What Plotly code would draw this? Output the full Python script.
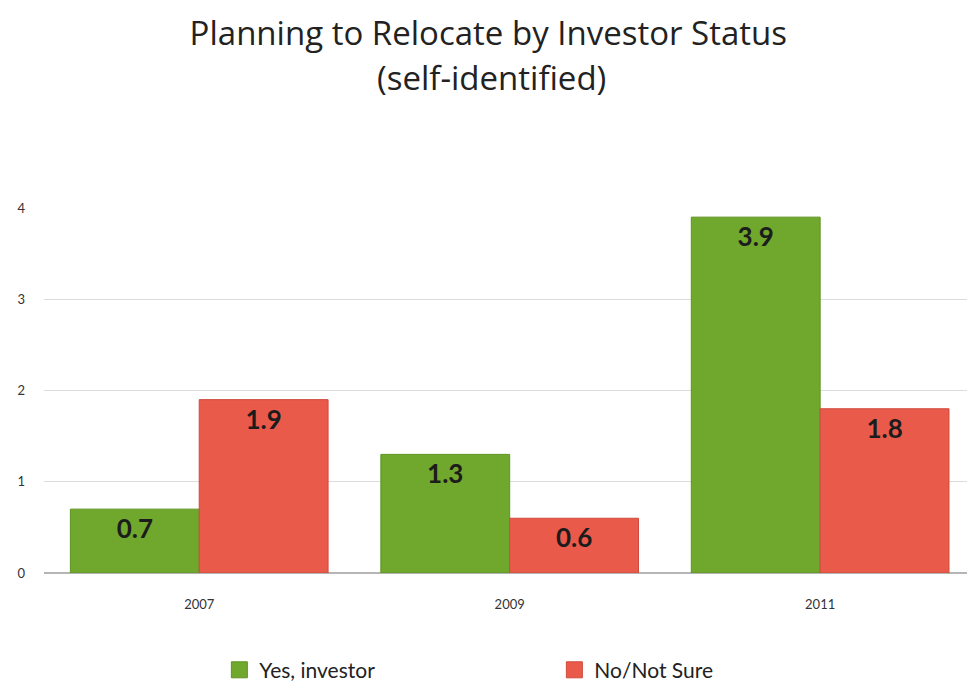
import plotly.graph_objects as go

years = ["2007", "2009", "2011"]
investor = [0.7, 1.3, 3.9]
not_sure = [1.9, 0.6, 1.8]
series_names = ["Yes, investor", "No/Not Sure"]
y_ticks = [0, 1, 2, 3, 4]

FONT = "Lato, 'Open Sans', sans-serif"
TITLE_FONT = "'Open Sans', Lato, sans-serif"
GREEN = "#6fa82c"
GREEN_EDGE = "#5e9222"
RED = "#ea5a4b"
RED_EDGE = "#cf4a3c"

fig = go.Figure()
for name, vals, color, edge in [
    (series_names[0], investor, GREEN, GREEN_EDGE),
    (series_names[1], not_sure, RED, RED_EDGE),
]:
    fig.add_trace(go.Bar(
        x=years, y=vals, name=name, legendgroup=name, showlegend=False,
        marker=dict(color=color, line=dict(color=edge, width=1)),
        text=[f"{v:.1f}" for v in vals],
        textposition="inside",
        insidetextanchor="end",
        textangle=0,
        textfont=dict(family=FONT, size=26, color="#1c1c1c", weight="bold"),
        cliponaxis=False,
    ))
    # larger square swatch for the legend entry
    fig.add_trace(go.Scatter(
        x=[None], y=[None], mode="markers", name=name, legendgroup=name,
        marker=dict(symbol="square", size=18, color=color,
                    line=dict(color=edge, width=1)),
        hoverinfo="skip",
    ))

fig.update_layout(
    width=967, height=685,
    margin=dict(l=44, r=0, t=208, b=112, autoexpand=False),
    paper_bgcolor="white", plot_bgcolor="white",
    barmode="group", bargap=0.17, bargroupgap=0,
    font=dict(family=FONT, color="#333"),
    title=dict(
        text="Planning to Relocate by Investor Status",
        x=0.505, xanchor="center", yref="container", y=0.951, yanchor="middle",
        font=dict(family=TITLE_FONT, size=33, color="#222"),
    ),
    annotations=[dict(
        text="(self-identified)", xref="paper", yref="paper",
        x=0.485, y=1.358, xanchor="center", yanchor="middle", showarrow=False,
        font=dict(family=TITLE_FONT, size=33, color="#222"),
    )],
    xaxis=dict(
        type="category", range=[-0.5, 2.473],
        showgrid=False, showline=False, ticks="",
        tickfont=dict(size=13, color="#333"),
        ticklabelstandoff=22,
    ),
    yaxis=dict(
        range=[0, 4], tickvals=y_ticks,
        showgrid=True, gridcolor="#dcdcdc", gridwidth=1,
        zeroline=True, zerolinecolor="#b5b5b5", zerolinewidth=2,
        showline=False, ticks="",
        tickfont=dict(size=13, color="#333"),
        ticklabelstandoff=18,
    ),
    legend=dict(
        orientation="h", x=0.19, xanchor="left", y=-0.21, yanchor="top",
        entrywidth=290, entrywidthmode="pixels", itemsizing="trace",
        font=dict(family=FONT, size=21, color="#222"),
    ),
    uniformtext=dict(minsize=10, mode="show"),
)

fig.write_html("out.html")
